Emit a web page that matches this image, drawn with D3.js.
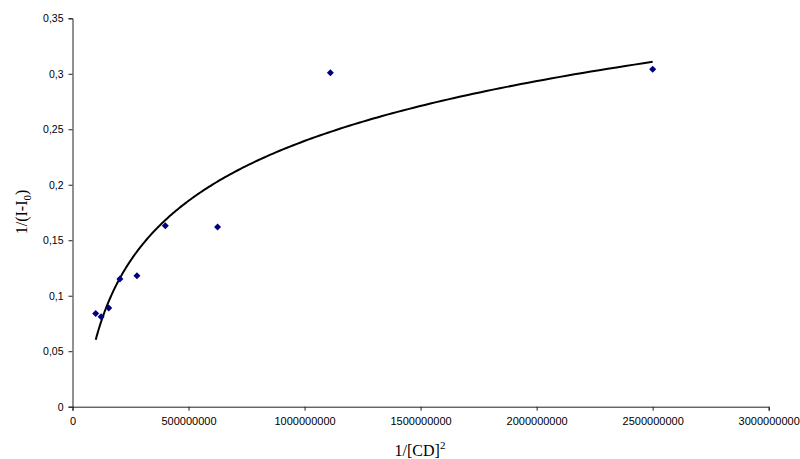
<!DOCTYPE html>
<html>
<head>
<meta charset="utf-8">
<script src="https://cdn.jsdelivr.net/npm/d3@7"></script>
<style>
  html, body { margin: 0; padding: 0; background: #fff; }
  svg { display: block; }
</style>
</head>
<body>
<svg id="chart" width="800" height="459"></svg>
<script>
// Data
const xValues = [100000000, 123456790, 156250000, 204081633, 277777778, 400000000, 625000000, 1111111111, 2500000000];
const yValues = [0.084, 0.081, 0.089, 0.115, 0.118, 0.163, 0.162, 0.301, 0.304];
const xTicks = [0, 500000000, 1000000000, 1500000000, 2000000000, 2500000000, 3000000000];
const yTicks = [0, 0.05, 0.1, 0.15, 0.2, 0.25, 0.3, 0.35];

const svg = d3.select("#chart");
const margin = { left: 72.5, right: 31.3, top: 18.3, bottom: 52.3 };
const W = 800, H = 459;

const x = d3.scaleLinear().domain([0, 3000000000]).range([margin.left, W - margin.right]);
const y = d3.scaleLinear().domain([0, 0.35]).range([H - margin.bottom, margin.top]);

// Axes
const xAxis = d3.axisBottom(x).tickValues(xTicks).tickSize(4).tickPadding(7)
  .tickFormat(d3.format("d"));
const yAxis = d3.axisLeft(y).tickValues(yTicks).tickSize(4).tickPadding(5)
  .tickFormat(d => String(d).replace(".", ","));

const gx = svg.append("g").attr("transform", `translate(0,${y(0)})`).call(xAxis);
const gy = svg.append("g").attr("transform", `translate(${x(0)},0)`).call(yAxis);
[gx, gy].forEach(g => {
  g.selectAll("path, line").attr("stroke", "#222").attr("stroke-width", 1);
  g.selectAll("text").attr("font-family", "Liberation Sans, Arial, sans-serif").attr("fill", "#000");
});
gx.selectAll("text").attr("font-size", 11);
gy.selectAll("text").attr("font-size", 10.5);

// Logarithmic trendline (least squares fit y = a ln x + b)
const lx = xValues.map(v => Math.log(v));
const mx = d3.mean(lx), my = d3.mean(yValues);
let sxy = 0, sxx = 0;
lx.forEach((u, i) => { sxy += (u - mx) * (yValues[i] - my); sxx += (u - mx) * (u - mx); });
const a = sxy / sxx, b = my - a * mx;
const xmin = d3.min(xValues), xmax = d3.max(xValues);
const curve = d3.range(0, 201).map(i => {
  const xv = Math.exp(Math.log(xmin) + (Math.log(xmax) - Math.log(xmin)) * i / 200);
  return [xv, a * Math.log(xv) + b];
});
svg.append("path")
  .datum(curve)
  .attr("fill", "none")
  .attr("stroke", "#000")
  .attr("stroke-width", 2)
  .attr("d", d3.line().x(d => x(d[0])).y(d => y(d[1])));

// Points (diamonds)
const sym = d3.symbol().type(d3.symbolSquare).size(24.5);
svg.append("g").selectAll("path")
  .data(xValues.map((v, i) => [v, yValues[i]]))
  .join("path")
  .attr("d", sym)
  .attr("transform", d => `translate(${x(d[0])},${y(d[1])}) rotate(45)`)
  .attr("fill", "#000080");

// Axis titles
const xt = svg.append("text")
  .attr("x", 420).attr("y", 456)
  .attr("text-anchor", "middle")
  .attr("font-family", "Liberation Serif, Times New Roman, serif")
  .attr("font-size", 16).attr("fill", "#000");
xt.append("tspan").text("1/[CD]");
xt.append("tspan").attr("dy", -7).attr("font-size", 11).text("2");

const yt = svg.append("text")
  .attr("transform", "translate(27,212) rotate(-90)")
  .attr("text-anchor", "middle")
  .attr("font-family", "Liberation Serif, Times New Roman, serif")
  .attr("font-size", 16).attr("fill", "#000");
yt.append("tspan").text("1/(I-I");
yt.append("tspan").attr("dy", 4).attr("font-size", 11).text("0");
yt.append("tspan").attr("dy", -4).text(")");
</script>
</body>
</html>
